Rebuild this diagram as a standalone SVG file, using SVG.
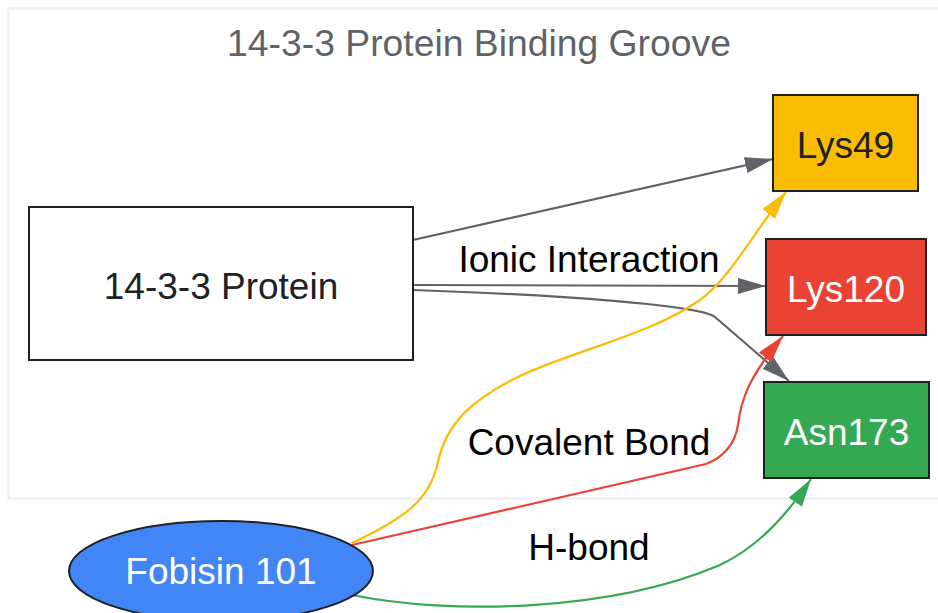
<svg xmlns="http://www.w3.org/2000/svg" width="938" height="613" viewBox="0 0 938 613">
<defs>
<style>
text{font-family:"Liberation Sans",Arial,sans-serif;font-size:37px;text-anchor:middle}
.node{stroke:#202124;stroke-width:2}
.e{fill:none;stroke-width:2.2}
.lbl{fill:#000}
</style>
<marker id="ag" markerUnits="userSpaceOnUse" markerWidth="30" markerHeight="18" refX="28" refY="8" orient="auto"><path d="M0,0 L28,8 L0,16 z" fill="#5f6368"/></marker>
<marker id="ay" markerUnits="userSpaceOnUse" markerWidth="30" markerHeight="18" refX="28" refY="8" orient="auto"><path d="M0,0 L28,8 L0,16 z" fill="#fbbc04"/></marker>
<marker id="ar" markerUnits="userSpaceOnUse" markerWidth="30" markerHeight="18" refX="28" refY="8" orient="auto"><path d="M0,0 L28,8 L0,16 z" fill="#ea4335"/></marker>
<marker id="agr" markerUnits="userSpaceOnUse" markerWidth="30" markerHeight="18" refX="28" refY="8" orient="auto"><path d="M0,0 L28,8 L0,16 z" fill="#34a853"/></marker>
</defs>
<rect width="938" height="613" fill="#ffffff"/>
<g id="cluster">
<rect x="8.5" y="8.5" width="940" height="490" fill="#ffffff" stroke="#eceeef" stroke-width="2"/>
<text x="479" y="56" fill="#5f6368" style="font-size:37.3px">14-3-3 Protein Binding Groove</text>
</g>
<g id="connectors">
<path class="e" stroke="#5f6368" d="M413,240 L773,159" marker-end="url(#ag)"/>
<path class="e" stroke="#5f6368" d="M413,285 L766,286" marker-end="url(#ag)"/>
<path class="e" stroke="#5f6368" d="M413,290 C560,295 700,305 715,317 L789,381" marker-end="url(#ag)"/>
<path class="e" stroke="#fbbc04" d="M352,543 C405,518 430,500 438,462 C446,425 470,400 520,376 C575,350 650,335 700,300 C730,278 752,235 786,192" marker-end="url(#ay)"/>
<path class="e" stroke="#ea4335" d="M352,545 L706,464 C722,458 735,445 738,425 C741,400 748,378 783,336" marker-end="url(#ar)"/>
<path class="e" stroke="#34a853" d="M352,595 C450,615 610,612 720,565 C762,545 790,510 811,479" marker-end="url(#agr)"/>
<text class="lbl" x="589" y="272">Ionic Interaction</text>
<text class="lbl" x="589" y="455">Covalent Bond</text>
<text class="lbl" x="589" y="560">H-bond</text>
</g>
<g id="protein">
<rect class="node" x="29" y="207" width="384" height="153" fill="#ffffff"/>
<text x="221" y="299" fill="#202124">14-3-3 Protein</text>
</g>
<g id="lys49">
<rect class="node" x="773" y="95" width="145" height="96" fill="#fbbc04"/>
<text x="845.5" y="158" fill="#202124">Lys49</text>
</g>
<g id="lys120">
<rect class="node" x="766" y="239" width="160" height="96" fill="#ea4335"/>
<text x="846" y="302" fill="#ffffff">Lys120</text>
</g>
<g id="asn173">
<rect class="node" x="764" y="382" width="165" height="96" fill="#34a853"/>
<text x="846.5" y="445" fill="#ffffff">Asn173</text>
</g>
<g id="fobisin">
<ellipse class="node" cx="221" cy="571" rx="152" ry="50" fill="#4285f4"/>
<text x="221" y="584" fill="#ffffff">Fobisin 101</text>
</g>
</svg>
